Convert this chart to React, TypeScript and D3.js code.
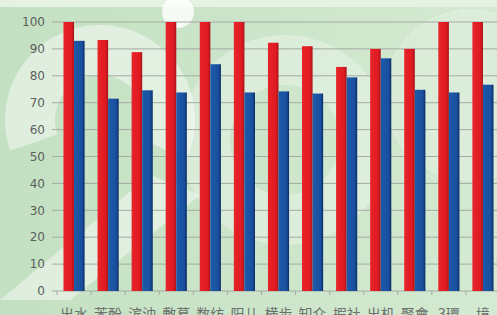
import React, { useEffect, useRef } from "react";
import * as d3 from "d3";

const categories = ["出水", "苯酚", "滨油", "敷葛", "数纺", "阳儿", "横步", "知众", "嘏社", "出机", "聚會", "3環", "境"];
const redValues = [100, 93.3, 88.8, 100, 100, 100, 92.3, 91, 83.3, 90, 90, 100, 100];
const blueValues = [93, 71.5, 74.6, 73.8, 84.3, 73.8, 74.2, 73.4, 79.4, 86.5, 74.8, 73.8, 76.7];
const yTicks = [0, 10, 20, 30, 40, 50, 60, 70, 80, 90, 100];

const W = 497;
const H = 315;

export default function App() {
  const ref = useRef<SVGSVGElement>(null);

  useEffect(() => {
    const svg = d3.select(ref.current);
    svg.selectAll("*").remove();

    const defs = svg.append("defs");
    const bg = defs.append("linearGradient").attr("id", "bg").attr("x1", 0).attr("x2", 1).attr("y1", 0).attr("y2", 0);
    bg.append("stop").attr("offset", "0%").attr("stop-color", "#c4e0c2");
    bg.append("stop").attr("offset", "100%").attr("stop-color", "#d4eAd2");
    const red = defs.append("linearGradient").attr("id", "red").attr("x1", 0).attr("x2", 1);
    red.append("stop").attr("offset", "0%").attr("stop-color", "#e8242a");
    red.append("stop").attr("offset", "75%").attr("stop-color", "#df1a20");
    red.append("stop").attr("offset", "100%").attr("stop-color", "#a3151a");
    const blue = defs.append("linearGradient").attr("id", "blue").attr("x1", 0).attr("x2", 1);
    blue.append("stop").attr("offset", "0%").attr("stop-color", "#1d5aaa");
    blue.append("stop").attr("offset", "75%").attr("stop-color", "#19509f");
    blue.append("stop").attr("offset", "100%").attr("stop-color", "#0c2c63");

    svg.append("rect").attr("width", W).attr("height", H).attr("fill", "url(#bg)");
    svg.append("rect").attr("width", W).attr("height", 7).attr("fill", "#e6f2e4");

    // watermark shapes ("2", "0" and a ring), drawn as paths
    const wm = svg.append("g").attr("fill", "#ffffff").attr("fill-opacity", 0.45);
    const two = d3.arc()({ innerRadius: 45, outerRadius: 95, startAngle: -1.9, endAngle: 2.0 } as any)!;
    wm.append("path").attr("d", two).attr("transform", "translate(100,120)");
    wm.append("path").attr("d", "M150,175 L200,195 L70,300 L0,300 Z");
    wm.append("path")
      .attr("d", d3.arc()({ innerRadius: 55, outerRadius: 105, startAngle: 0, endAngle: 2 * Math.PI } as any)!)
      .attr("transform", "translate(285,140)").attr("fill-opacity", 0.3);
    wm.append("circle").attr("cx", 178).attr("cy", 12).attr("r", 16).attr("fill-opacity", 0.8);
    svg.append("circle").attr("cx", 470).attr("cy", 95).attr("r", 85)
      .attr("fill", "#ffffff").attr("fill-opacity", 0.2)
      .attr("stroke", "#ffffff").attr("stroke-opacity", 0.6).attr("stroke-dasharray", "2,2");

    const y = d3.scaleLinear().domain([0, 100]).range([291, 22]);
    const x = d3.scaleBand<string>().domain(categories).range([57, 500]).paddingInner(0.38).paddingOuter(0.19);
    const xs = d3.scaleBand<string>().domain(["r", "b"]).range([0, x.bandwidth()]);

    const g = svg.append("g");
    g.selectAll("line.grid").data(yTicks).join("line")
      .attr("x1", 52).attr("x2", W)
      .attr("y1", (d) => y(d)).attr("y2", (d) => y(d))
      .attr("stroke", "#a4aaa4").attr("stroke-width", 1);

    g.selectAll("text.yl").data(yTicks).join("text")
      .attr("x", 45).attr("y", (d) => y(d)).attr("dy", "0.35em")
      .attr("text-anchor", "end").attr("font-size", 12).attr("font-family", "DejaVu Sans")
      .attr("fill", "#5a5f5a").text((d) => d);

    const grp = g.selectAll("g.grp").data(categories).join("g")
      .attr("transform", (d) => `translate(${x(d)},0)`);
    grp.append("rect")
      .attr("x", xs("r")!).attr("width", xs.bandwidth())
      .attr("y", (_d, i) => y(redValues[i])).attr("height", (_d, i) => y(0) - y(redValues[i]))
      .attr("fill", "url(#red)");
    grp.append("rect")
      .attr("x", xs("b")!).attr("width", xs.bandwidth())
      .attr("y", (_d, i) => y(blueValues[i])).attr("height", (_d, i) => y(0) - y(blueValues[i]))
      .attr("fill", "url(#blue)");

    const step = x.step();
    g.selectAll("line.tk").data(categories).join("line")
      .attr("x1", (d) => x(d)! - (step - x.bandwidth()) / 2)
      .attr("x2", (d) => x(d)! - (step - x.bandwidth()) / 2)
      .attr("y1", y(0)).attr("y2", y(0) + 4)
      .attr("stroke", "#a4aaa4");

    g.selectAll("text.xl").data(categories).join("text")
      .attr("x", (d) => x(d)! + x.bandwidth() / 2).attr("y", 319)
      .attr("text-anchor", "middle").attr("font-size", 14).attr("font-family", "Noto Sans CJK SC")
      .attr("fill", "#6a706a").text((d) => d);
  }, []);

  return <svg ref={ref} width={W} height={H} style={{ position: "absolute", left: 0, top: 0 }} />;
}
